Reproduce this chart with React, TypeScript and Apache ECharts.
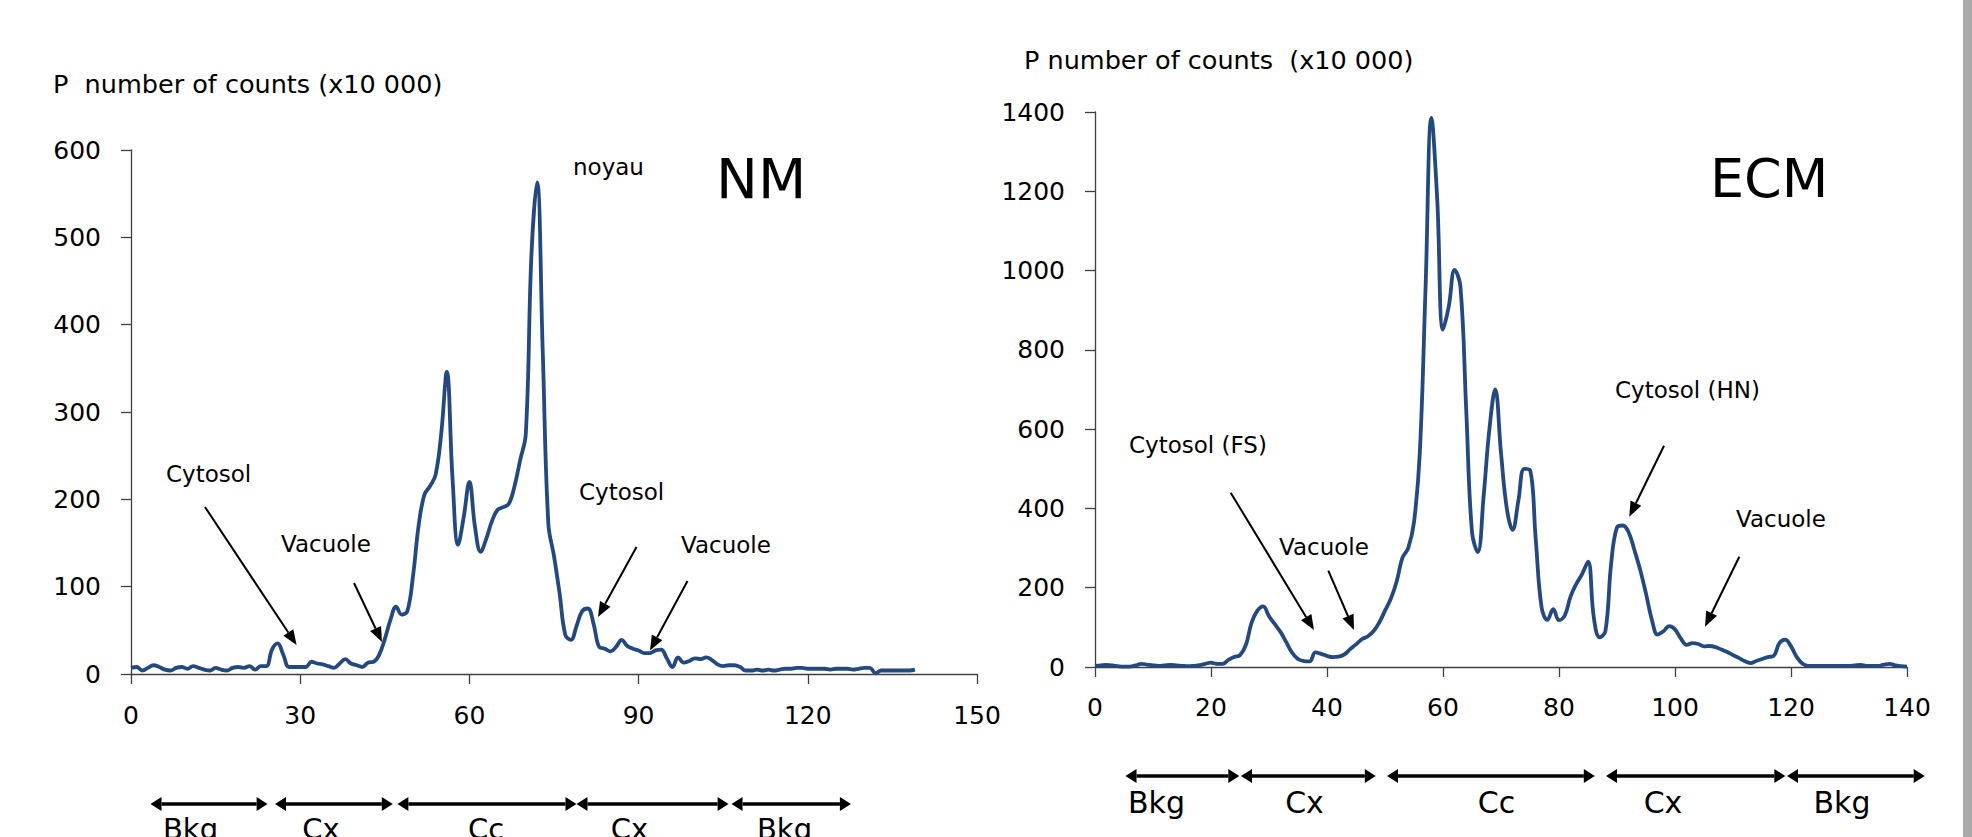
import React, { useEffect, useRef } from "react";
import * as echarts from "echarts";

// NM profile: counts (x10 000) at positions 0..139
const nmCounts = [
  7, 8, 4, 7, 10, 8, 5, 4, 7, 8,
  6, 9, 7, 5, 4, 7, 5, 4, 7, 8,
  7, 9, 5, 9, 9, 28, 35, 22, 8, 8,
  8, 8, 14, 12, 11, 9, 7, 12, 17, 12,
  10, 8, 13, 14, 22, 40, 62, 77, 68, 72,
  112, 170, 205, 215, 228, 275, 346, 225, 148, 180,
  220, 168, 140, 155, 175, 188, 191, 195, 215, 245,
  275, 480, 563, 370, 172, 135, 92, 45, 39, 55,
  72, 75, 58, 31, 29, 26, 31, 39, 32, 29,
  27, 24, 24, 27, 28, 18, 8, 19, 13, 15,
  18, 17, 19, 16, 11, 9, 10, 10, 8, 4,
  4, 5, 4, 5, 4, 5, 6, 6, 7, 7,
  6, 6, 6, 6, 5, 6, 6, 6, 5, 6,
  7, 7, 1, 4, 4, 4, 4, 4, 4, 5,
];

// ECM profile: counts (x10 000) at positions 0..140
const ecmCounts = [
  3, 4, 5, 4, 2, 1, 1, 4, 8, 6,
  4, 3, 4, 5, 4, 3, 2, 3, 5, 8,
  11, 8, 8, 18, 25, 30, 55, 112, 142, 153,
  128, 108, 88, 62, 36, 20, 15, 14, 37, 33,
  28, 25, 26, 32, 45, 57, 70, 77, 90, 112,
  142, 172, 215, 275, 300, 365, 540, 960, 1385, 1180,
  851, 910, 1002, 960, 650, 340, 290, 430, 600, 700,
  540, 400, 346, 420, 500, 497, 320, 150, 119, 146,
  118, 130, 178, 210, 235, 266, 125, 75, 90, 262,
  352, 357, 340, 295, 245, 185, 120, 82, 90, 103,
  95, 72, 56, 60, 58, 52, 53, 50, 44, 38,
  30, 23, 15, 10, 15, 20, 25, 28, 60, 69,
  52, 25, 8, 3, 3, 3, 3, 3, 3, 3,
  3, 4, 5, 3, 3, 3, 6, 8, 4, 2,
  1,
];

const nmTicks = { min: 0, max: 150, interval: 30 };
const nmYTicks = { min: 0, max: 600, interval: 100 };
const ecmTicks = { min: 0, max: 140, interval: 20 };
const ecmYTicks = { min: 0, max: 1400, interval: 200 };

const regionLabels = ["Bkg", "Cx", "Cc", "Cx", "Bkg"];
const nmAnnotations = ["noyau", "Cytosol", "Vacuole", "Cytosol", "Vacuole"];
const ecmAnnotations = ["Cytosol (FS)", "Vacuole", "Cytosol (HN)", "Vacuole"];
const nmTitle = "P  number of counts (x10 000)";
const ecmTitle = "P number of counts  (x10 000)";

const FONT = "DejaVu Sans";
const LINE_COLOR = "#23497f";

function head(x1: number, y1: number, x2: number, y2: number, len: number, hw: number) {
  const dx = x2 - x1;
  const dy = y2 - y1;
  const L = Math.sqrt(dx * dx + dy * dy);
  const ux = dx / L;
  const uy = dy / L;
  const bx = x2 - ux * len;
  const by = y2 - uy * len;
  const px = -uy;
  const py = ux;
  return {
    base: [bx, by],
    points: [
      [x2, y2],
      [bx + px * hw, by + py * hw],
      [bx - px * hw, by - py * hw],
    ],
  };
}

function arrow(x1: number, y1: number, x2: number, y2: number) {
  const h = head(x1, y1, x2, y2, 15, 6);
  return [
    {
      type: "line",
      z: 100,
      shape: { x1, y1, x2: h.base[0], y2: h.base[1] },
      style: { stroke: "#000", lineWidth: 2 },
    },
    { type: "polygon", z: 100, shape: { points: h.points }, style: { fill: "#000" } },
  ];
}

function doubleArrow(x1: number, x2: number, y: number) {
  const a = head(x1, y, x2, y, 11, 7);
  const b = head(x2, y, x1, y, 11, 7);
  return [
    {
      type: "line",
      z: 100,
      shape: { x1: b.base[0], y1: y, x2: a.base[0], y2: y },
      style: { stroke: "#000", lineWidth: 3.5 },
    },
    { type: "polygon", z: 100, shape: { points: a.points }, style: { fill: "#000" } },
    { type: "polygon", z: 100, shape: { points: b.points }, style: { fill: "#000" } },
  ];
}

function label(text: string, x: number, y: number, size: number, align = "left") {
  return {
    type: "text",
    z: 100,
    x,
    y,
    style: {
      text,
      fill: "#000",
      fontSize: size,
      fontFamily: FONT,
      align,
      verticalAlign: "middle",
    },
  };
}

function axisCommon(labelMargin: number) {
  return {
    type: "value",
    axisLine: { show: true, onZero: false, lineStyle: { color: "#404040", width: 1.3 } },
    axisTick: { show: true, inside: false, length: 10, lineStyle: { color: "#404040", width: 1.3 } },
    axisLabel: {
      color: "#000",
      fontSize: 25,
      fontFamily: FONT,
      margin: labelMargin,
      formatter: (v: number) => String(v),
    },
    splitLine: { show: false },
  };
}

export default function App() {
  const ref = useRef<HTMLDivElement>(null);

  useEffect(() => {
    document.body.style.margin = "0";
    document.body.style.overflow = "hidden";
    if (!ref.current) return;
    const chart = echarts.init(ref.current, undefined, { renderer: "svg" });

    const graphic: any[] = [];
    // gray strip on the right edge
    graphic.push({
      type: "rect",
      z: 100,
      shape: { x: 1963, y: 0, width: 9, height: 837 },
      style: { fill: "#a9a9a9" },
    });

    // NM titles and annotations
    graphic.push(label(nmTitle, 53, 84, 25.5));
    graphic.push(label(nmAnnotations[0], 573, 167, 23));
    graphic.push(label("NM", 716, 178, 56));
    graphic.push(label(nmAnnotations[1], 166, 474, 23));
    graphic.push(label(nmAnnotations[2], 281, 544, 23));
    graphic.push(label(nmAnnotations[3], 579, 492, 23));
    graphic.push(label(nmAnnotations[4], 681, 545, 23));
    graphic.push(...arrow(205, 507, 296.6, 645));
    graphic.push(...arrow(354, 583, 382, 642));
    graphic.push(...arrow(636.5, 547, 598, 617));
    graphic.push(...arrow(687.5, 581, 650, 650.5));

    // ECM titles and annotations
    graphic.push(label(ecmTitle, 1024, 60, 25.5));
    graphic.push(label("ECM", 1710, 178, 54));
    graphic.push(label(ecmAnnotations[0], 1129, 445, 23));
    graphic.push(label(ecmAnnotations[1], 1279, 547, 23));
    graphic.push(label(ecmAnnotations[2], 1615, 390, 23));
    graphic.push(label(ecmAnnotations[3], 1736, 519, 23));
    graphic.push(...arrow(1230.7, 492.7, 1314, 630));
    graphic.push(...arrow(1328.3, 570.7, 1354, 630));
    graphic.push(...arrow(1664, 445.7, 1629.3, 516.7));
    graphic.push(...arrow(1739.3, 556.7, 1705, 626.7));

    // region arrows under NM
    const nmSeg = [
      [150.5, 267.6],
      [275, 392.8],
      [397.4, 576.5],
      [576.5, 728.6],
      [731.5, 850.9],
    ];
    const nmLabX = [190.5, 321, 486, 629.5, 784.5];
    nmSeg.forEach((s, i) => {
      graphic.push(...doubleArrow(s[0], s[1], 804));
      graphic.push(label(regionLabels[i], nmLabX[i], 829, 29, "center"));
    });

    // region arrows under ECM
    const ecmSeg = [
      [1125.5, 1239.3],
      [1241, 1375.8],
      [1387, 1594.8],
      [1606, 1785.3],
      [1787, 1924.7],
    ];
    const ecmLabX = [1156.5, 1304.5, 1496.5, 1663, 1842];
    ecmSeg.forEach((s, i) => {
      graphic.push(...doubleArrow(s[0], s[1], 776));
      graphic.push(label(regionLabels[i], ecmLabX[i], 802, 30, "center"));
    });

    const option: any = {
      animation: false,
      backgroundColor: "#fff",
      grid: [
        { left: 131, top: 150, width: 846, height: 524 },
        { left: 1095, top: 112, width: 812, height: 555 },
      ],
      xAxis: [
        { ...axisCommon(29), gridIndex: 0, ...nmTicks },
        { ...axisCommon(28), gridIndex: 1, ...ecmTicks },
      ],
      yAxis: [
        { ...axisCommon(30), gridIndex: 0, ...nmYTicks },
        { ...axisCommon(30), gridIndex: 1, ...ecmYTicks },
      ],
      series: [
        {
          type: "line",
          xAxisIndex: 0,
          yAxisIndex: 0,
          data: nmCounts.map((v, i) => [i, v]),
          smooth: 0.4,
          showSymbol: false,
          lineStyle: { color: LINE_COLOR, width: 3.8 },
        },
        {
          type: "line",
          xAxisIndex: 1,
          yAxisIndex: 1,
          data: ecmCounts.map((v, i) => [i, v]),
          smooth: 0.4,
          showSymbol: false,
          lineStyle: { color: LINE_COLOR, width: 3.8 },
        },
      ],
      graphic,
    };
    chart.setOption(option);
    return () => chart.dispose();
  }, []);

  return <div ref={ref} style={{ width: 1972, height: 837 }} />;
}
